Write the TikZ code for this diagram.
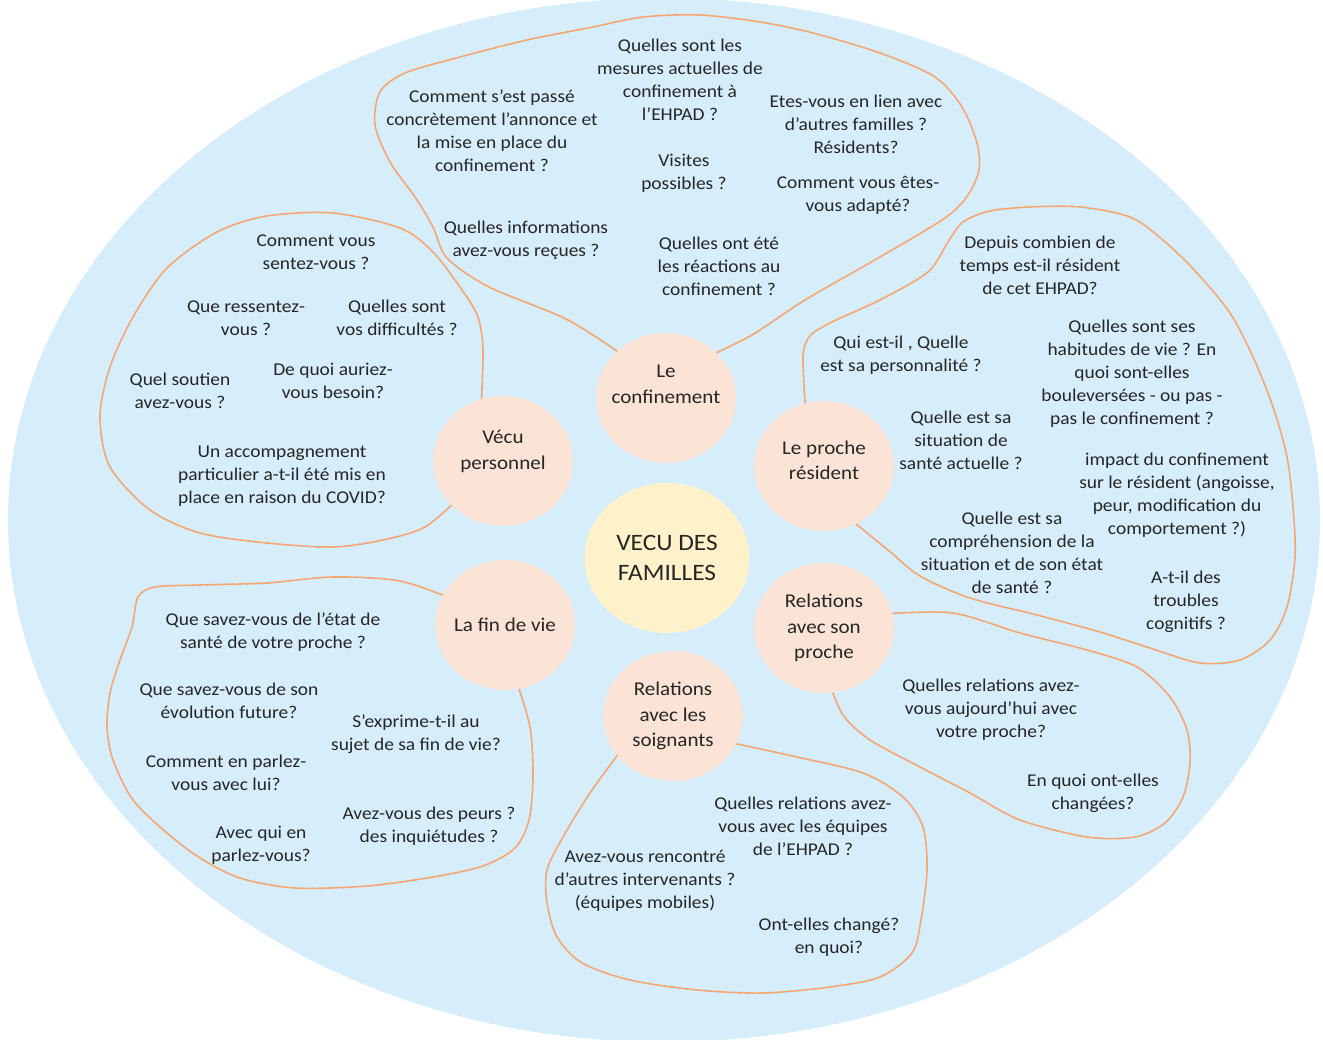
\documentclass[tikz,border=0pt]{standalone}
\usepackage{fontspec}
\setmainfont{Carlito}[FakeStretch=1.08]
\usepackage{tikz}
\usetikzlibrary{
    shapes.geometric
}
\definecolor{skyfill}{HTML}{D6EDFB}
\definecolor{peachfill}{HTML}{FBE3D5}
\definecolor{creamfill}{HTML}{FFF1C9}
\definecolor{petalline}{HTML}{F4A772}
\definecolor{inkgray}{HTML}{262626}
\tikzset{
    theme/.style={
        shape=ellipse, fill=peachfill, align=center, text=inkgray,
        minimum width=140, minimum height=130, inner ysep=0pt, inner xsep=-8pt,
        font=\fontsize{19.5}{25.5}\selectfont
    },
    core/.style={
        theme, fill=creamfill, minimum width=165, minimum height=150,
        font=\fontsize{23.5}{30}\selectfont
    },
    lifted/.style={
        text depth=#1
    },
    question/.style={
        align=center, text=inkgray, inner sep=1pt,
        font=\fontsize{18}{23}\selectfont
    },
    petal/.style={
        draw=petalline, line width=1.6pt
    },
}

\begin{document}
\begin{tikzpicture}[x=1pt,y=-1pt]
    \useasboundingbox (0,0) rectangle (1323,1040);
    \fill[skyfill] (664,520) ellipse [x radius=656, y radius=522];

    % petals, from one side of a theme round to the other
    \draw[petal] plot[smooth] coordinates {
        (630,360) (568,320) (489,287) (447,258) (433,227) (415,197)
        (390,162) (375,125) (380,92) (405,73) (460,57) (527,40) (593,27)
        (643,17) (700,15) (760,22) (813,33) (880,53) (935,77) (962,107)
        (977,143) (979,170) (968,195) (945,218) (880,257) (805,300) (752,335)
        (705,358)};
    \draw[petal] plot[smooth] coordinates {
        (481,410) (483,350) (478,317) (462,290) (433,252) (400,228)
        (333,213) (267,216) (217,232) (167,268) (133,317) (110,367) (100,417)
        (110,467) (150,510) (200,533) (267,543) (333,547) (383,540) (425,527)
        (460,497)};
    \draw[petal] plot[smooth] coordinates {
        (806,415) (803,357) (810,336) (832,322) (880,300) (928,272)
        (948,242) (963,222) (990,211) (1030,207) (1080,207) (1130,217)
        (1163,240) (1197,273) (1230,313) (1253,357) (1273,407) (1287,457)
        (1293,507) (1295,557) (1287,607) (1270,640) (1240,660) (1200,663)
        (1150,648) (1100,632) (1037,615) (970,598) (920,576) (888,550)
        (845,515)};
    \draw[petal] plot[smooth] coordinates {
        (455,600) (400,581) (333,577) (267,583) (200,585) (155,587)
        (138,597) (132,627) (120,660) (110,693) (107,727) (113,760) (133,800)
        (167,833) (200,858) (240,878) (295,888) (367,886) (433,877) (483,866)
        (515,848) (529,820) (533,777) (530,727) (516,680)};
    \draw[petal] plot[smooth] coordinates {
        (883,614) (953,613) (1020,633) (1087,650) (1137,667)
        (1170,697) (1187,730) (1190,763) (1183,797) (1165,823) (1135,837)
        (1087,837) (1020,820) (970,793) (920,767) (870,740) (843,715)
        (829,682)};
    \draw[petal] plot[smooth] coordinates {
        (728,742) (797,757) (863,773) (903,797) (923,827) (927,870)
        (921,920) (912,953) (880,977) (830,987) (763,993) (697,990) (630,980)
        (582,963) (557,937) (547,903) (547,870) (563,837) (590,793) (625,745)};

    % themes
    \node[core] (familles) at (667,558) {VECU DES\\FAMILLES};
    \node[theme, lifted=28pt] (confinement) at (666,398) {Le\\confinement};
    \node[theme, lifted=22pt] (vecu) at (503,461) {Vécu\\personnel};
    \node[theme, lifted=12pt] (proche) at (824,466) {Le proche\\résident};
    \node[theme] (finvie) at (505,625) {La fin de vie};
    \node[theme] (relproche) at (824,628) {Relations\\avec son\\proche};
    \node[theme] (soignants) at (673,716) {Relations\\avec les\\soignants};

    % le confinement
    \node[question] (mesures) at (680,80) {Quelles sont les\\mesures actuelles de\\confinement à\\l'EHPAD ?};
    \node[question] (annonce) at (492,131) {Comment s’est passé\\concrètement l'annonce et\\la mise en place du\\confinement ?};
    \node[question] (lien) at (856,124) {Etes-vous en lien avec\\d'autres familles ?\\Résidents?};
    \node[question] (visites) at (684,173) {Visites\\possibles ?};
    \node[question] (adapte) at (858,195) {Comment vous êtes-\\vous adapté?};
    \node[question] (infos) at (526,240) {Quelles informations\\avez-vous reçues ?};
    \node[question] (reactions) at (719,266) {Quelles ont été\\les réactions au\\confinement ?};

    % vecu personnel
    \node[question] (sentez) at (316,252) {Comment vous\\sentez-vous ?};
    \node[question] (ressentez) at (246,318) {Que ressentez-\\vous ?};
    \node[question] (difficultes) at (397,318) {Quelles sont\\vos difficultés ?};
    \node[question] (soutien) at (180,391) {Quel soutien\\avez-vous ?};
    \node[question] (besoin) at (333,381) {De quoi auriez-\\vous besoin?};
    \node[question] (accompagnement) at (282,476) {Un accompagnement\\particulier a-t-il été mis en\\place en raison du COVID?};

    % le proche resident
    \node[question] (depuis) at (1040,265) {Depuis combien de\\temps est-il résident\\de cet EHPAD?};
    \node[question] (personnalite) at (901,355) {Qui est-il , Quelle\\est sa personnalité ?};
    \node[question] (habitudes) at (1132,374) {Quelles sont ses\\habitudes de vie ? En\\quoi sont-elles\\bouleversées - ou pas -\\pas le confinement ?};
    \node[question] (sante) at (961,440) {Quelle est sa\\situation de\\santé actuelle ?};
    \node[question] (impact) at (1177,495) {impact du confinement\\sur le résident (angoisse,\\peur, modification du\\comportement ?)};
    \node[question] (comprehension) at (1012,553) {Quelle est sa\\compréhension de la\\situation et de son état\\de santé ?};
    \node[question] (troubles) at (1186,602) {A-t-il des\\troubles\\cognitifs ?};

    % la fin de vie
    \node[question] (etat) at (273,632) {Que savez-vous de l’état de\\santé de votre proche ?};
    \node[question] (evolution) at (229,701) {Que savez-vous de son\\évolution future?};
    \node[question] (exprime) at (416,734) {S’exprime-t-il au\\sujet de sa fin de vie?};
    \node[question] (parlez) at (226,773) {Comment en parlez-\\vous avec lui?};
    \node[question] (peurs) at (429,826) {Avez-vous des peurs ?\\des inquiétudes ?};
    \node[question] (avecqui) at (261,845) {Avec qui en\\parlez-vous?};

    % relations avec son proche
    \node[question] (aujourdhui) at (991,710) {Quelles relations avez-\\vous aujourd'hui avec\\votre proche?};
    \node[question] (changees) at (1093,793) {En quoi ont-elles\\changées?};

    % relations avec les soignants
    \node[question] (equipes) at (803,826) {Quelles relations avez-\\vous avec les équipes\\de l'EHPAD ?};
    \node[question] (intervenants) at (645,881) {Avez-vous rencontré\\d'autres intervenants ?\\(équipes mobiles)};
    \node[question] (change) at (829,937) {Ont-elles changé?\\en quoi?};
\end{tikzpicture}
\end{document}
